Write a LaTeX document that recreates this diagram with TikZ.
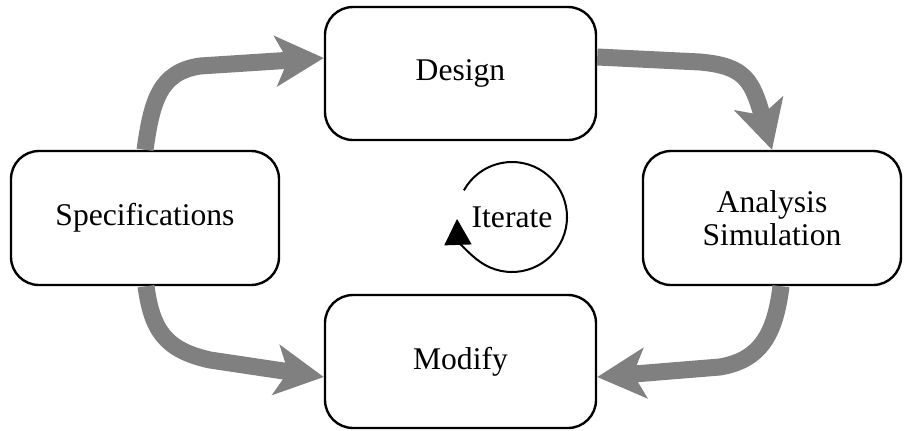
\documentclass[tikz,border=0pt]{standalone}
\usepackage{fontspec}
\setmainfont{Liberation Serif}
\usetikzlibrary{arrows.meta,calc}
\begin{document}
\begin{tikzpicture}[x=0.5pt,y=0.5pt,
  box/.style={draw,line width=1.2pt,rounded corners=14pt,inner sep=0pt,align=center,
    font=\fontsize{15.8pt}{16.5pt}\selectfont},
  flow/.style={draw=gray,line width=8.5pt,-{Stealth[length=24pt,width=25pt,inset=6pt]}}]
  \useasboundingbox (0,0) rectangle (905,430);
  \node[box,minimum width=134pt,minimum height=67pt] (spec) at (145,212) {Specifications};
  \node[box,minimum width=135.5pt,minimum height=66.5pt] (design) at (460.5,356.5) {Design};
  \node[box,minimum width=129pt,minimum height=67pt] (anal) at (772,212) {Analysis\\Simulation};
  \node[box,minimum width=135.5pt,minimum height=66.5pt] (modify) at (460.5,68.5) {Modify};
  \node[font=\fontsize{15.8pt}{16.5pt}\selectfont] (iter) at (512,213) {Iterate};
  \draw[flow] (spec.north) .. controls (152,330) and (160,358) .. (200,364)
    -- ($(design.west)+(0,15.5)$);
  \draw[flow] ($(design.east)+(0,16.5)$) -- (700,368) .. controls (745,364) and (752,350)
    .. (anal.north);
  \draw[flow] ($(anal.south)+(9,0)$) .. controls (775,95) and (760,70) .. (720,63)
    -- ($(modify.east)+(0,-15.5)$);
  \draw[flow] ($(spec.south)+(1,0)$) .. controls (152,100) and (165,80) .. (210,70)
    -- ($(modify.west)+(0,-15.5)$);
  \draw[line width=1pt,-{Triangle[length=13pt,width=13.5pt]}]
    ($(iter)+(151:55)$) arc[start angle=151,end angle=-178,radius=55];
\end{tikzpicture}
\end{document}
